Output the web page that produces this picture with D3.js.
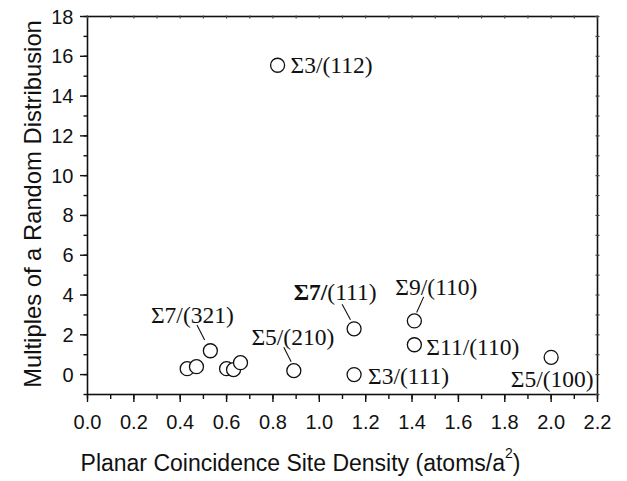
<!DOCTYPE html>
<html><head><meta charset="utf-8">
<script src="https://cdn.jsdelivr.net/npm/d3@7"></script>
<style>body{margin:0;background:#fff}</style>
</head><body>
<svg id="c" width="627" height="481"></svg>
<script>
// Data
const xValues = [0.43, 0.47, 0.53, 0.60, 0.63, 0.66, 0.82, 0.89, 1.15, 1.15, 1.41, 1.41, 2.00];
const yValues = [0.30, 0.40, 1.20, 0.30, 0.25, 0.60, 15.55, 0.20, 2.30, 0.00, 2.70, 1.50, 0.87];
const pointLabels = ["", "", "Σ7/(321)", "", "", "", "Σ3/(112)", "Σ5/(210)", "Σ7/(111)", "Σ3/(111)", "Σ9/(110)", "Σ11/(110)", "Σ5/(100)"];
const xTicks = [0.0, 0.2, 0.4, 0.6, 0.8, 1.0, 1.2, 1.4, 1.6, 1.8, 2.0, 2.2];
const yTicks = [0, 2, 4, 6, 8, 10, 12, 14, 16, 18];
const xTitle = "Planar Coincidence Site Density (atoms/a";
const yTitle = "Multiples of a Random Distribusion";

// Label layout (pixel offsets from point): [dx, dy, anchor, leader]
const labelLayout = {
  2: [-18, -36, "middle", [-5.7, -10.7, -13.4, -25.7]],
  6: [13, 0, "start", null],
  7: [-1, -34, "middle", [-2.7, -9, -10, -23.4]],
  8: [-19, -37, "middle", [-3.6, -9, -12, -24.7]],
  9: [14, 1, "start", null],
  10: [22, -34, "middle", [2.3, -8.4, 9.3, -24]],
  11: [12, 2, "start", null],
  12: [1, 22, "middle", null]
};

const svg = d3.select("#c");
const L = 87.5, R = 597.5, T = 16.5, B = 394.5;
const x = d3.scaleLinear().domain([0, 2.2]).range([L, R]);
const y = d3.scaleLinear().domain([-1, 18]).range([B, T]);

const sans = "'Liberation Sans', Arial, sans-serif";
const serif = "'Liberation Serif', 'Times New Roman', serif";

// frame
svg.append("rect").attr("x", L).attr("y", T).attr("width", R - L).attr("height", B - T)
  .attr("fill", "none").attr("stroke", "#111").attr("stroke-width", 1.6);

const xMinor = d3.range(0, 2.21, 0.1);
const yMinor = d3.range(-1, 18.01, 1);

// bottom axis
const gx = svg.append("g").attr("transform", `translate(0,${B})`);
gx.selectAll("line.mi").data(xMinor).join("line")
  .attr("x1", d => x(d)).attr("x2", d => x(d)).attr("y1", 0).attr("y2", 4.5)
  .attr("stroke", "#111").attr("stroke-width", 1.4);
gx.selectAll("line.ma").data(xTicks).join("line")
  .attr("x1", d => x(d)).attr("x2", d => x(d)).attr("y1", 0).attr("y2", 7.5)
  .attr("stroke", "#111").attr("stroke-width", 1.4);
gx.selectAll("text").data(xTicks).join("text")
  .attr("x", d => x(d)).attr("y", 27.5).attr("text-anchor", "middle")
  .attr("dominant-baseline", "central")
  .attr("font-family", sans).attr("font-size", 20).attr("fill", "#111")
  .text(d => d3.format(".1f")(d));

// left axis
const gy = svg.append("g").attr("transform", `translate(${L},0)`);
gy.selectAll("line.mi").data(yMinor).join("line")
  .attr("x1", 0).attr("x2", -4).attr("y1", d => y(d)).attr("y2", d => y(d))
  .attr("stroke", "#111").attr("stroke-width", 1.4);
gy.selectAll("line.ma").data(yTicks).join("line")
  .attr("x1", 0).attr("x2", -7.5).attr("y1", d => y(d)).attr("y2", d => y(d))
  .attr("stroke", "#111").attr("stroke-width", 1.4);
gy.selectAll("text").data(yTicks).join("text")
  .attr("x", -14).attr("y", d => y(d)).attr("text-anchor", "end")
  .attr("dominant-baseline", "central")
  .attr("font-family", sans).attr("font-size", 20).attr("fill", "#111")
  .text(d => d);

// top & right small ticks
svg.append("g").selectAll("line").data(xMinor).join("line")
  .attr("x1", d => x(d)).attr("x2", d => x(d)).attr("y1", T - 1).attr("y2", T + 2)
  .attr("stroke", "#444").attr("stroke-width", 1.2);
svg.append("g").selectAll("line").data(yMinor).join("line")
  .attr("x1", R - 2).attr("x2", R + 2).attr("y1", d => y(d)).attr("y2", d => y(d))
  .attr("stroke", "#444").attr("stroke-width", 1.2);

// titles
const yc = 204;
svg.append("text").attr("x", 32).attr("y", yc)
  .attr("transform", `rotate(-90,32,${yc})`)
  .attr("text-anchor", "middle").attr("dominant-baseline", "central")
  .attr("font-family", sans).attr("font-size", 23.8).attr("fill", "#111").text(yTitle);
const xt = svg.append("text").attr("x", (L + R) / 2 - 42).attr("y", 463)
  .attr("text-anchor", "middle").attr("dominant-baseline", "central")
  .attr("font-family", sans).attr("font-size", 23).attr("fill", "#111");
xt.append("tspan").text(xTitle);
xt.append("tspan").attr("font-size", 14).attr("dy", -10).text("2");
xt.append("tspan").attr("dy", 10).text(")");

// points
const pts = xValues.map((v, i) => ({x: v, y: yValues[i], label: pointLabels[i], i}));
svg.append("g").selectAll("circle").data(pts).join("circle")
  .attr("cx", d => x(d.x)).attr("cy", d => y(d.y)).attr("r", 7)
  .attr("fill", "#fff").attr("stroke", "#111").attr("stroke-width", 1.3);

// labels
const lab = pts.filter(d => d.label && labelLayout[d.i]);
const gl = svg.append("g");
lab.forEach(d => {
  const [dx, dy, anchor, leader] = labelLayout[d.i];
  const px = x(d.x), py = y(d.y);
  if (leader) {
    gl.append("line").attr("x1", px + leader[0]).attr("y1", py + leader[1])
      .attr("x2", px + leader[2]).attr("y2", py + leader[3])
      .attr("stroke", "#111").attr("stroke-width", 1.1);
  }
  const t = gl.append("text").attr("x", px + dx).attr("y", py + dy)
    .attr("text-anchor", anchor).attr("dominant-baseline", "central")
    .attr("font-family", serif).attr("font-size", 23.5).attr("fill", "#111");
  if (d.i === 8) {
    const k = d.label.indexOf("(");
    t.append("tspan").attr("font-weight", "bold").text(d.label.slice(0, k));
    t.append("tspan").text(d.label.slice(k));
  } else t.text(d.label);
});
</script>
</body></html>
